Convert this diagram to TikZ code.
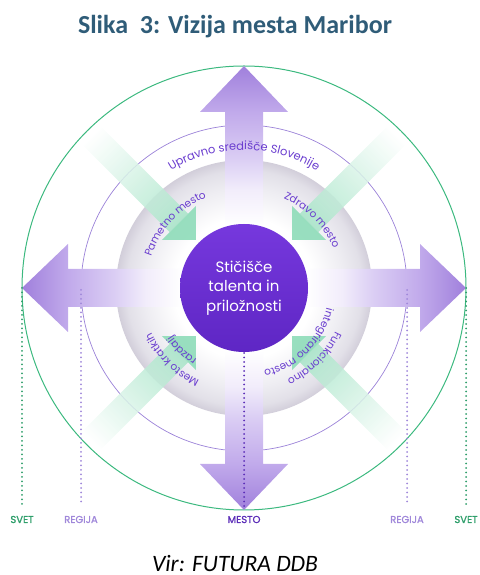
\documentclass[tikz,border=0pt]{standalone}
\usepackage{fontspec}
\usetikzlibrary{decorations.text}
\setmainfont{Carlito}
\newfontfamily\pop{Poppins}
\newfontfamily\popmed{Poppins}[FakeBold=1.2]
\definecolor{titlec}{HTML}{2F5C78}
\definecolor{greenc}{HTML}{3CB97F}
\definecolor{greendot}{HTML}{2E9E6A}
\definecolor{lavc}{HTML}{9B82D8}
\definecolor{lavdot}{HTML}{A088DA}
\definecolor{labc}{HTML}{6A3DCF}
\definecolor{mestoc}{HTML}{5B2DB8}
\definecolor{greenhead}{HTML}{8EDCB9}
\definecolor{greenshaft}{HTML}{A6E4C7}
\definecolor{coretop}{HTML}{7638DD}
\definecolor{corebot}{HTML}{5E26C4}
\definecolor{pa1}{HTML}{A080DC}
\definecolor{pa2}{HTML}{C1AAEB}
\definecolor{pa3}{HTML}{DBCEF4}
\definecolor{pa4}{HTML}{F2EDFB}
\definecolor{g1}{HTML}{EEEDF2}
\definecolor{g2}{HTML}{E2E0E8}
\definecolor{g3}{HTML}{D2CEDA}
\pgfdeclarehorizontalshading{parrow}{100bp}{color(0bp)=(white); color(25bp)=(white); color(39bp)=(white); color(47bp)=(pa4); color(54bp)=(pa3); color(64.6bp)=(pa2); color(75bp)=(pa1); color(100bp)=(pa1)}
\pgfdeclareradialshading{disc}{\pgfpoint{0bp}{0bp}}{color(0bp)=(white); color(13.7bp)=(white); color(19.5bp)=(g1); color(23bp)=(g2); color(25bp)=(g3); color(50bp)=(g3)}
\newcommand\labtop{\pop\fontsize{11.5}{13}\selectfont\color{labc}}
\newcommand\labin{\pop\fontsize{10.5}{12}\selectfont\color{labc}}
\begin{document}
\begin{tikzpicture}[x=1pt,y=1pt,
  titlestyle/.style={font=\bfseries\fontsize{26}{30}\selectfont, text=titlec, anchor=base, inner sep=0pt},
  capstyle/.style={font=\itshape\fontsize{23.5}{26}\selectfont, text=black, anchor=base, inner sep=0pt},
  botlab/.style={font=\popmed\fontsize{10}{12}\selectfont, anchor=base, inner sep=0pt},
  dotline/.style={line width=2pt, dash pattern=on 0pt off 4.5pt, line cap=round},
  curved/.style={decorate, decoration={text along path, text align=center, text={#1}}}]
\useasboundingbox (0,0) rectangle (479,575);
\coordinate (C) at (244,287);
\node[titlestyle] (title) at (235,541) {Slika\ \ 3: Vizija mesta Maribor};
% rings
\draw[greenc, line width=1pt] (C) circle[radius=222];
\draw[lavc, line width=0.7pt] (C) circle[radius=163];
\shade[shading=disc] (C) circle[radius=128];
% purple arrows
\foreach \a in {0,90,180,270}{
  \begin{scope}[transform canvas={shift={(244,287)},rotate=\a}]
    \shade[shading=parrow] (0,-19) -- (176,-19) -- (176,-44) -- (222,0) -- (176,44) -- (176,19) -- (0,19) -- cycle;
  \end{scope}}
% green arrows
\foreach \a in {45,135,225,315}{
  \begin{scope}[transform canvas={shift={(244,287)},rotate=\a}]
    \shade[left color=greenshaft, right color=white, opacity=0.85] (92,-13) rectangle (216,13);
    \fill[greenhead, opacity=0.9] (92,-24) -- (92,24) -- (68,0) -- cycle;
  \end{scope}}
% dotted guide lines and labels
\node[botlab, text=greendot] (svetL) at (22,52) {SVET};
\node[botlab, text=lavdot] (regL) at (81,52) {REGIJA};
\node[botlab, text=mestoc] (mesto) at (244,52) {MESTO};
\node[botlab, text=lavdot] (regR) at (407,52) {REGIJA};
\node[botlab, text=greendot] (svetR) at (466,52) {SVET};
\coordinate (svetLt) at (22,287);  \coordinate (svetLb) at (22,69);
\coordinate (regLt) at (81,285);   \coordinate (regLb) at (81,69);
\coordinate (regRt) at (407,285);  \coordinate (regRb) at (407,69);
\coordinate (svetRt) at (466,287); \coordinate (svetRb) at (466,69);
\coordinate (mestot) at (244,222); \coordinate (mestob) at (244,67);
\draw[dotline, greendot] (svetLt) -- (svetLb);
\draw[dotline, lavdot] (regLt) -- (regLb);
\draw[dotline, lavdot] (regRt) -- (regRb);
\draw[dotline, greendot] (svetRt) -- (svetRb);
\draw[dotline, mestoc] (mestot) -- (mestob);
% core
\node[circle, minimum size=128, inner sep=0pt, top color=coretop, bottom color=corebot, text=white, align=center,
      font=\pop\fontsize{15}{19.5}\selectfont] (core) at (C) {Stičišče\\talenta in\\priložnosti};
% curved labels
\path[curved={|\labtop|Upravno središče Slovenije}] ([shift={(150:138)}]C) arc[start angle=150, end angle=30, radius=138];
\path[curved={|\labin|Pametno mesto}] ([shift={(207:98)}]C) arc[start angle=207, end angle=67, radius=98];
\path[curved={|\labin|Zdravo mesto}] ([shift={(115:98)}]C) arc[start angle=115, end angle=-25, radius=98];
\path[curved={|\labin|Mesto kratkih}] ([shift={(295:103)}]C) arc[start angle=295, end angle=155, radius=103];
\path[curved={|\labin|razdalj}] ([shift={(295:86)}]C) arc[start angle=295, end angle=155, radius=86];
\path[curved={|\labin|Funkcionalno}] ([shift={(25:101)}]C) arc[start angle=25, end angle=-115, radius=101];
\path[curved={|\labin|integrirano mesto}] ([shift={(25:85)}]C) arc[start angle=25, end angle=-115, radius=85];
\node[capstyle] (cap) at (235,4) {Vir: FUTURA DDB};
\end{tikzpicture}
\end{document}
